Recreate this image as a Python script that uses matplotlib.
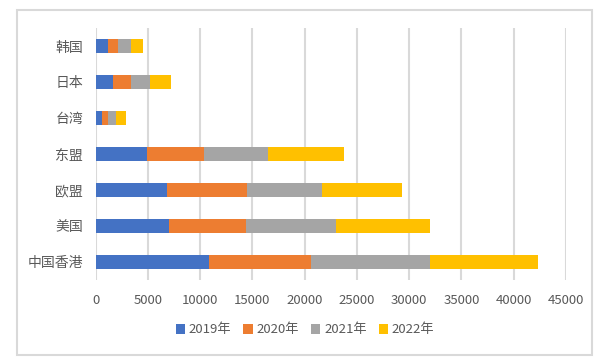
import matplotlib
matplotlib.use("Agg")
import matplotlib.pyplot as plt
from matplotlib.patches import Rectangle
import numpy as np

plt.rcParams['font.family'] = ['Noto Sans CJK SC', 'DejaVu Sans']

categories = ['中国香港', '美国', '欧盟', '东盟', '台湾', '日本', '韩国']
series_names = ['2019年', '2020年', '2021年', '2022年']
v2019 = [10830, 7010, 6820, 4900, 600, 1650, 1180]
v2020 = [9750, 7330, 7640, 5450, 580, 1730, 950]
v2021 = [11380, 8630, 7180, 6120, 760, 1810, 1250]
v2022 = [10330, 9060, 7650, 7270, 960, 2010, 1140]
xticks = [0, 5000, 10000, 15000, 20000, 25000, 30000, 35000, 40000, 45000]
colors = ['#4472C4', '#ED7D31', '#A5A5A5', '#FFC000']

fig = plt.figure(figsize=(6.1, 3.6), dpi=100)
ax = fig.add_axes([95.7/610, 1-280/360, (566-95.7)/610, (280-28)/360])

y = np.arange(len(categories))
left = np.zeros(len(categories))
for name, vals, c in zip(series_names, [v2019, v2020, v2021, v2022], colors):
    ax.barh(y, vals, left=left, height=0.4, color=c, label=name, zorder=3)
    left = left + np.array(vals)

ax.set_xlim(0, 45000)
ax.set_ylim(-0.5, len(categories) - 0.5)
ax.set_xticks(xticks)
ax.set_xticklabels([str(t) for t in xticks])
ax.set_yticks(y)
ax.set_yticklabels(categories)
ax.grid(axis='x', color='#d9d9d9', linewidth=1.5, zorder=0)
for s in ax.spines.values():
    s.set_visible(False)
ax.tick_params(axis='both', length=0, colors='#595959', labelsize=9.5)
ax.tick_params(axis='x', pad=10)
ax.tick_params(axis='y', pad=9, labelsize=10)

leg = fig.legend(loc='center', bbox_to_anchor=(305/610, 1-330/360), ncol=4,
                 frameon=False, fontsize=9.5, handlelength=0.7, handleheight=0.7,
                 handletextpad=0.3, columnspacing=0.9)
for t in leg.get_texts():
    t.set_color('#595959')

fig.patches.append(Rectangle((17/610, 1-355/360), (592-17)/610, (355-10)/360,
                             transform=fig.transFigure, fill=False,
                             edgecolor='#d9d9d9', linewidth=1.5))

fig.savefig('out.png', dpi=100, facecolor='white')
